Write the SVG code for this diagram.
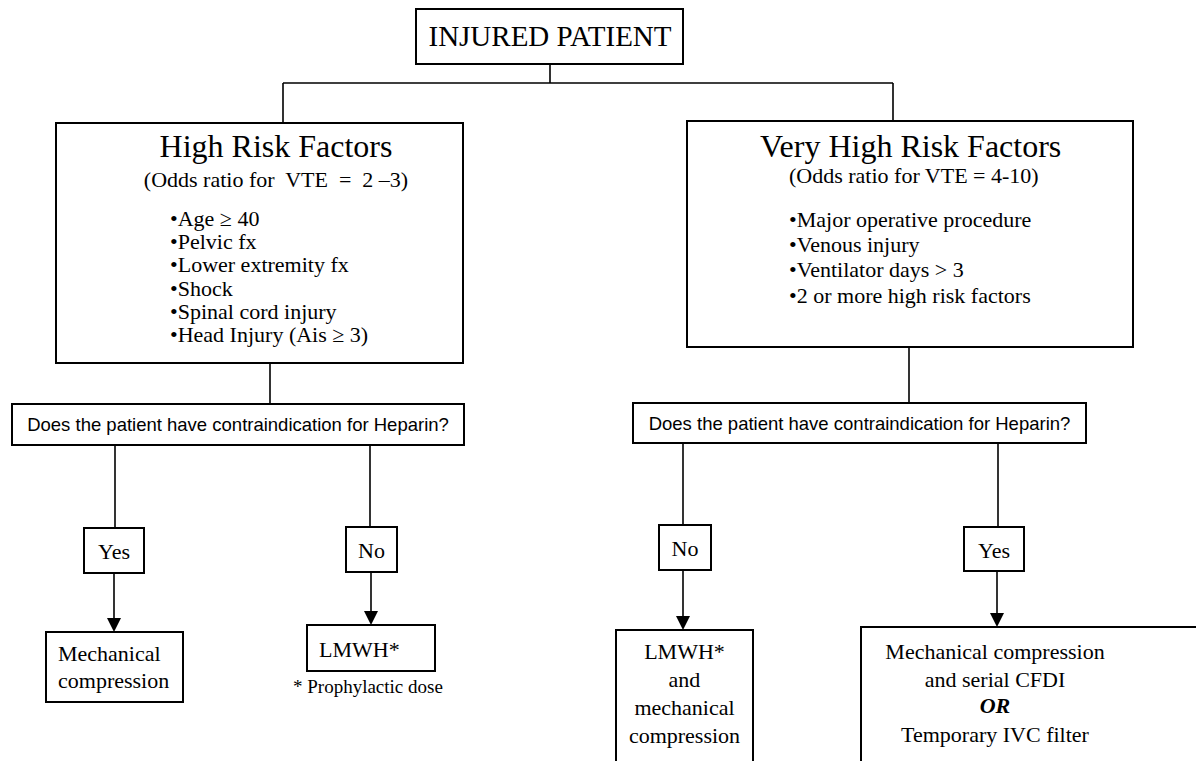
<svg xmlns="http://www.w3.org/2000/svg" width="1196" height="761" viewBox="0 0 1196 761">
<style>
.box{fill:#fff;stroke:#000;stroke-width:2}
.ln{fill:none;stroke:#000;stroke-width:1.6}
.t{font-family:"Liberation Serif","Times New Roman",serif;fill:#000}
.s{font-family:"Liberation Sans",Arial,sans-serif;fill:#000}
.c{text-anchor:middle}
.ah{fill:#000}
</style>
<rect width="1196" height="761" fill="#fff"/>
<g id="connectors">
<path class="ln" d="M550,64 V83 M283,83 H893 M283,83 V123 M893,83 V121"/>
<path class="ln" d="M270,363 V404"/>
<path class="ln" d="M909,347 V403"/>
<path class="ln" d="M115,445 V528"/>
<path class="ln" d="M370,445 V527"/>
<path class="ln" d="M683,443 V525"/>
<path class="ln" d="M998,443 V527"/>
<path class="ln" d="M114,573 V620"/>
<path class="ln" d="M371,572 V613"/>
<path class="ln" d="M683,570 V618"/>
<path class="ln" d="M997,571 V615"/>
<path class="ah" d="M107,618 L121,618 L114,632 Z"/>
<path class="ah" d="M364,611 L378,611 L371,625 Z"/>
<path class="ah" d="M676,616 L690,616 L683,630 Z"/>
<path class="ah" d="M990,613 L1004,613 L997,627 Z"/>
</g>
<g id="injured">
<rect class="box" x="416" y="9" width="267" height="55"/>
<text class="t c" x="550" y="46" font-size="29">INJURED PATIENT</text>
</g>
<g id="high">
<rect class="box" x="56" y="123" width="407" height="240"/>
<text class="t c" x="276" y="157" font-size="32">High Risk Factors</text>
<text class="t c" x="276" y="187" font-size="22" xml:space="preserve">(Odds ratio for  VTE  =  2 –3)</text>
<text class="t" font-size="22"><tspan x="170" y="226">•Age ≥ 40</tspan><tspan x="170" y="249">•Pelvic fx</tspan><tspan x="170" y="272">•Lower extremity fx</tspan><tspan x="170" y="295.5">•Shock</tspan><tspan x="170" y="318.5">•Spinal cord injury</tspan><tspan x="170" y="342">•Head Injury (Ais ≥ 3)</tspan></text>
</g>
<g id="veryhigh">
<rect class="box" x="687" y="121" width="446" height="226"/>
<text class="t" x="760" y="157" font-size="32">Very High Risk Factors</text>
<text class="t" x="789" y="183" font-size="22">(Odds ratio for VTE = 4-10)</text>
<text class="t" font-size="22"><tspan x="789" y="227">•Major operative procedure</tspan><tspan x="789" y="252">•Venous injury</tspan><tspan x="789" y="277">•Ventilator days &gt; 3</tspan><tspan x="789" y="303">•2 or more high risk factors</tspan></text>
</g>
<g id="q-left">
<rect class="box" x="12" y="404" width="452" height="41"/>
<text class="s c" x="238" y="431" font-size="18.5">Does the patient have contraindication for Heparin?</text>
</g>
<g id="q-right">
<rect class="box" x="633" y="403" width="453" height="40"/>
<text class="s c" x="859.5" y="430" font-size="18.5">Does the patient have contraindication for Heparin?</text>
</g>
<g id="yes-left">
<rect class="box" x="84" y="528" width="60" height="45"/>
<text class="t c" x="114" y="559" font-size="22">Yes</text>
</g>
<g id="no-left">
<rect class="box" x="346" y="527" width="51" height="45"/>
<text class="t c" x="371.5" y="558" font-size="22">No</text>
</g>
<g id="no-right">
<rect class="box" x="659" y="525" width="52" height="45"/>
<text class="t c" x="685" y="556" font-size="22">No</text>
</g>
<g id="yes-right">
<rect class="box" x="964" y="527" width="60" height="44"/>
<text class="t c" x="994" y="558" font-size="22">Yes</text>
</g>
<g id="mech-left">
<rect class="box" x="46" y="632" width="137" height="70"/>
<text class="t" font-size="22"><tspan x="58" y="661">Mechanical</tspan><tspan x="58" y="688">compression</tspan></text>
</g>
<g id="lmwh-left">
<rect class="box" x="307" y="625" width="128" height="46"/>
<text class="t" x="319" y="657" font-size="22">LMWH*</text>
<text class="t" x="293" y="693" font-size="19">* Prophylactic dose</text>
</g>
<g id="lmwh-right">
<rect class="box" x="616" y="630" width="137" height="150"/>
<text class="t c" font-size="22"><tspan x="684.5" y="659">LMWH*</tspan><tspan x="684.5" y="687">and</tspan><tspan x="684.5" y="715">mechanical</tspan><tspan x="684.5" y="743">compression</tspan></text>
</g>
<g id="mech-right">
<rect class="box" x="861" y="627" width="360" height="150"/>
<text class="t c" font-size="22"><tspan x="995" y="659">Mechanical compression</tspan><tspan x="995" y="687">and serial CFDI</tspan><tspan x="995" y="713" font-weight="bold" font-style="italic">OR</tspan><tspan x="995" y="742">Temporary IVC filter</tspan></text>
</g>
</svg>
